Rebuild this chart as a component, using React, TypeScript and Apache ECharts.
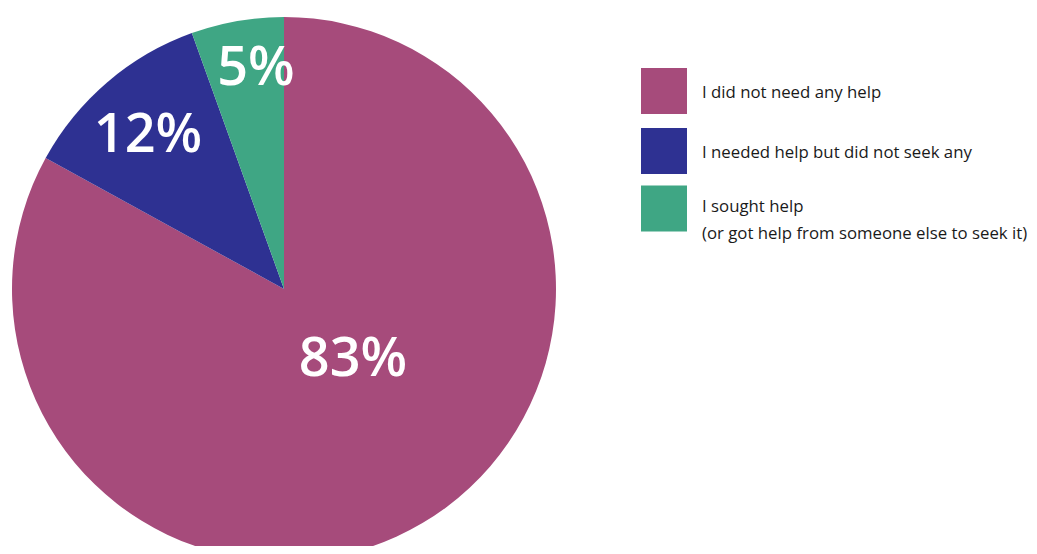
import React, { useEffect, useRef } from "react";
import * as echarts from "echarts";

const categories = [
  "I did not need any help",
  "I needed help but did not seek any",
  "I sought help\n(or got help from someone else to seek it)",
];
const values = [83, 11.5, 5.5];
const valueLabels = ["83%", "12%", "5%"];
const colors = ["#A64B7B", "#2E3192", "#3FA684"];
const labelPositions = [
  [353, 355],
  [148, 131],
  [256, 64],
];

export default function App() {
  const ref = useRef<HTMLDivElement>(null);
  useEffect(() => {
    if (!ref.current) return;
    const chart = echarts.init(ref.current, undefined, { renderer: "svg" });
    const textStyle = {
      fontFamily: "Open Sans",
      fontSize: 16.8,
      color: "#1a1a1a",
      padding: [0, 0, 0, 10],
      lineHeight: 27,
    };
    const baseLegend = {
      orient: "vertical",
      left: 636,
      itemWidth: 46,
      itemHeight: 46,
      itemGap: 14,
      icon: "rect",
      selectedMode: false,
      textStyle,
    };
    chart.setOption({
      animation: false,
      backgroundColor: "#ffffff",
      color: colors,
      legend: [
        { ...baseLegend, top: 63, data: categories.slice(0, 2) },
        {
          ...baseLegend,
          top: 166,
          data: [categories[2]],
          formatter: (name: string) =>
            "{s| }\n" +
            name
              .split("\n")
              .map((l) => "{a|" + l + "}")
              .join("\n"),
          textStyle: {
            ...textStyle,
            rich: {
              s: { fontSize: 10, lineHeight: 21 },
              a: {
                fontFamily: "Open Sans",
                fontSize: 16.8,
                color: "#1a1a1a",
                lineHeight: 27,
              },
            },
          },
        },
      ],
      series: [
        {
          type: "pie",
          center: [284, 289],
          radius: [0, 272],
          startAngle: 90,
          clockwise: true,
          silent: true,
          label: {
            show: true,
            position: "inside",
            formatter: (p: any) => valueLabels[p.dataIndex],
            color: "#ffffff",
            fontFamily: "Open Sans",
            fontSize: 54,
            fontWeight: 600,
          },
          labelLayout: (p: any) => ({
            x: labelPositions[p.dataIndex][0],
            y: labelPositions[p.dataIndex][1],
            align: "center",
            verticalAlign: "middle",
          }),
          labelLine: { show: false },
          itemStyle: { borderWidth: 0 },
          data: categories.map((name, i) => ({ name, value: values[i] })),
        },
      ],
    });
    return () => chart.dispose();
  }, []);
  return <div ref={ref} style={{ width: 1037, height: 554, margin: -8 }} />;
}
